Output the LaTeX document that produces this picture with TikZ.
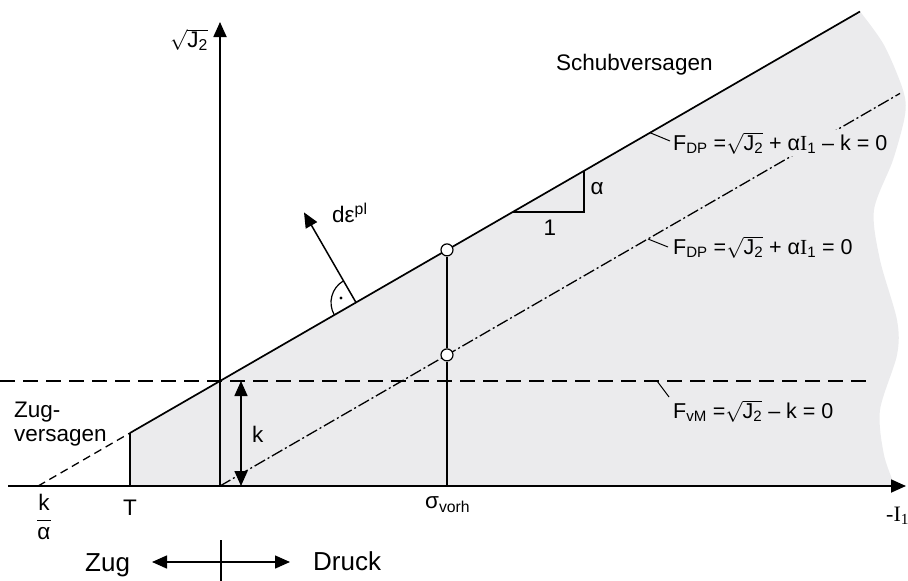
\documentclass[tikz,border=0pt]{standalone}
\usepackage{fontspec}
\setmainfont{Liberation Sans}
\newfontfamily\seriffont{Liberation Serif}
\usetikzlibrary{arrows.meta}
\definecolor{regiongray}{RGB}{235,235,237}
\newcommand{\sqJ}{$\sqrt{\mbox{J\textsubscript{2}}}$}
\begin{document}
\begin{tikzpicture}[x=1pt,y=-1pt,
  axisline/.style={line width=1.8pt},
  mainline/.style={line width=1.7pt},
  leader/.style={line width=1pt},
  tipend/.style={-{Triangle[length=15pt,width=13pt]}},
  bothtips/.style={{Triangle[length=15pt,width=13pt]}-{Triangle[length=15pt,width=13pt]}},
  lbl/.style={inner sep=0pt, font=\fontsize{22.5}{26}\selectfont},
  formula/.style={inner sep=0pt, font=\fontsize{21.5}{25}\selectfont},
  biglbl/.style={inner sep=0pt, font=\fontsize{26}{30}\selectfont},
  ptcircle/.style={draw, fill=white, line width=1.2pt, circle, minimum size=12pt, inner sep=0pt},
  longdash/.style={dash pattern=on 15pt off 8pt},
  shortdash/.style={dash pattern=on 8pt off 5pt},
  dashdotline/.style={dash pattern=on 12pt off 3pt on 2pt off 3pt}
]
\useasboundingbox (0,0) rectangle (908,581);
% key coordinates
\coordinate (O) at (220,486);
\coordinate (K) at (220,381);
\coordinate (Tb) at (130,486);
\coordinate (Tt) at (130,432.96);
\coordinate (Lend) at (860,11.5);
\coordinate (Kalpha) at (38.1,486);
\coordinate (DDend) at (900,93.4);
\coordinate (Sb) at (447,486);
% shaded region
\fill[regiongray] (Tb) -- (Tt) -- (Lend) -- plot[smooth] coordinates {(860,11.5) (884,45) (903,90) (905,115) (893,160) (874,210) (880,260) (897,320) (897,355) (880,410) (884,455) (895,486)} -- cycle;
% axes
\coordinate (Xs) at (8,486);
\coordinate (Xe) at (906,486);
\coordinate (Ye) at (220,22);
\draw[axisline, tipend] (Xs) -- (Xe);
\draw[axisline, tipend] (O) -- (Ye);
% horizontal dashed von Mises line
\coordinate (Hs) at (0,381);
\coordinate (He) at (872,381);
\draw[mainline, longdash] (Hs) -- (He);
% DP line
\draw[mainline] (Tt) -- (Lend);
\draw[line width=1.3pt, shortdash] (Kalpha) -- (Tt);
% dash dot line
\draw[line width=1.3pt, dashdotline] (O) -- (DDend);
% vertical lines
\draw[mainline] (Tb) -- (Tt);
\node[ptcircle] (C1) at (447,249.9) {};
\node[ptcircle] (C2) at (447,354.9) {};
\draw[mainline] (Sb) -- (C2);
\draw[mainline] (C2) -- (C1);
% k arrow
\coordinate (ka) at (241,381);
\coordinate (kb) at (241,486);
\draw[line width=1.5pt, bothtips] (ka) -- (kb);
% slope triangle
\coordinate (S1) at (513,212);
\coordinate (S2) at (584,212);
\coordinate (S3) at (584,171);
\draw[line width=1.5pt] (S1) -- (S2) -- (S3);
% plastic strain arrow
\coordinate (Pa) at (356,302.5);
\coordinate (Pb) at (304,212.4);
\draw[line width=1.5pt, tipend] (Pa) -- (Pb);
\draw[line width=1.2pt] (334.35,315) arc[start angle=150, end angle=240, radius=25];
\fill (341,298) circle[radius=1.6pt];
% leaders
\coordinate (L1a) at (650,132.7);
\coordinate (L1b) at (670,141);
\coordinate (L2a) at (648,239);
\coordinate (L2b) at (668,247);
\coordinate (L3a) at (657,381);
\coordinate (L3b) at (669,397);
\draw[leader] (L1a) -- (L1b);
\draw[leader] (L2a) -- (L2b);
\draw[leader] (L3a) -- (L3b);
% labels
\node[lbl, anchor=base west] (sqj) at (170,47) {\sqJ};
\node[lbl, anchor=base west] (schub) at (556,70) {Schubversagen};
\node[formula, anchor=base west, fill=regiongray, inner ysep=2pt] (fdp1) at (673,150) {F\textsubscript{DP} =\sqJ\ + α{\seriffont I}\textsubscript{1} – k = 0};
\node[formula, anchor=base west] (fdp2) at (673,254) {F\textsubscript{DP} =\sqJ\ + α{\seriffont I}\textsubscript{1} = 0};
\node[formula, anchor=base west] (fvm) at (673,418) {F\textsubscript{vM} =\sqJ\ – k = 0};
\node[lbl, anchor=base west] (deps) at (332,222) {dε\textsuperscript{pl}};
\node[lbl, anchor=base] (one) at (550,235) {1};
\node[lbl, anchor=base] (alph) at (597,194) {α};
\node[lbl, anchor=base west] (klbl) at (252,442) {k};
\node[lbl, anchor=base west] (zug1) at (14,417) {Zug-};
\node[lbl, anchor=base west] (zug2) at (14,441) {versagen};
\node[lbl, anchor=base] (tlbl) at (130,515) {T};
\node[lbl, anchor=center] (kal) at (44,517) {$\displaystyle\frac{\mbox{k}}{\mbox{α}}$};
\node[lbl, anchor=base west] (sig) at (425,508) {σ\textsubscript{vorh}};
\node[inner sep=0pt, font=\fontsize{22}{26}\selectfont\seriffont, anchor=base west] (ione) at (886,521) {-I\textsubscript{1}};
% Zug / Druck
\coordinate (zl) at (152,562);
\coordinate (zr) at (290,562);
\coordinate (tka) at (221,540);
\coordinate (tkb) at (221,581);
\draw[line width=1.5pt, tipend] (tka |- zl) -- (zl);
\draw[line width=1.5pt, tipend] (tka |- zr) -- (zr);
\draw[line width=1.5pt] (tka) -- (tkb);
\node[biglbl, anchor=base west] (zug) at (85,571) {Zug};
\node[biglbl, anchor=base west] (druck) at (313,570) {Druck};
\end{tikzpicture}
\end{document}
